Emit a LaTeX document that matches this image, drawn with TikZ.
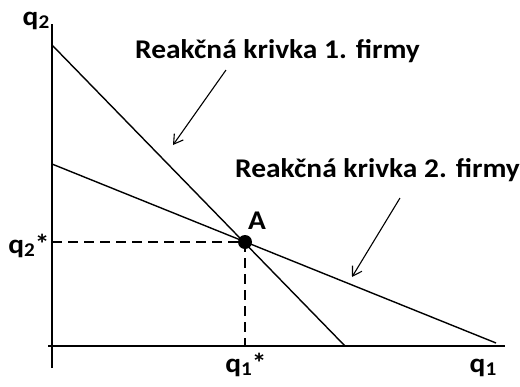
\documentclass[tikz,border=0pt]{standalone}
\usepackage{fontspec}
\usepackage{graphicx}
\setmainfont{Carlito}
\newfontfamily\lblfont[FakeStretch=1.09]{Carlito}
\newcommand\sbs[1]{\raisebox{-0.14em}{\scalebox{0.72}{#1}}}
\usetikzlibrary{arrows.meta}
\begin{document}
\begin{tikzpicture}[x=1pt,y=-1pt,
  lbl/.style={font=\lblfont\bfseries\fontsize{27}{30}\selectfont, inner sep=0pt, anchor=base},
  axis/.style={line width=1.8pt},
  curve/.style={line width=1.4pt},
  guide/.style={line width=1.2pt, dash pattern=on 10pt off 6pt},
  pointer/.style={line width=1.1pt, -{Straight Barb[length=9pt,width=11pt,line width=1.1pt]}}]
\useasboundingbox (0,0) rectangle (520,386);
% axes
\coordinate (ytop) at (52,24);
\coordinate (ybot) at (52,368);
\coordinate (xl) at (48,346);
\coordinate (xr) at (505,346);
\draw[axis] (ybot) -- (ytop);
\draw[axis] (xl) -- (xr);
% reaction curves
\coordinate (r1a) at (52,45);
\coordinate (r1b) at (345,346);
\coordinate (r2a) at (52,164);
\coordinate (r2b) at (496,343);
\draw[curve] (r1a) -- (r1b);
\draw[curve] (r2a) -- (r2b);
% point A
\node[circle, fill=black, inner sep=0pt, minimum size=14pt] (A) at (245,242) {};
\coordinate (Ay) at (52,242);
\coordinate (Ax) at (245,346);
\draw[guide] (Ay) -- (A.center);
\draw[guide] (A.center) -- (Ax);
% labels
\node[lbl] (Alab) at (257,229) {A};
\node[lbl] (q2) at (36,25) {q\sbs{2}};
\node[lbl] (q2s) at (29,253) {q\sbs{2}*};
\node[lbl] (q1s) at (246,372) {q\sbs{1}*};
\node[lbl] (q1) at (483,372) {q\sbs{1}};
\node[lbl, anchor=base west] (t1) at (135,58) {Reakčná krivka 1. firmy};
\node[lbl, anchor=base west] (t2) at (235,177) {Reakčná krivka 2. firmy};
% pointers
\coordinate (p1s) at (226,70);
\coordinate (p1e) at (173,145);
\coordinate (p2s) at (400,198);
\coordinate (p2e) at (352,277);
\draw[pointer] (p1s) -- (p1e);
\draw[pointer] (p2s) -- (p2e);
\end{tikzpicture}
\end{document}
